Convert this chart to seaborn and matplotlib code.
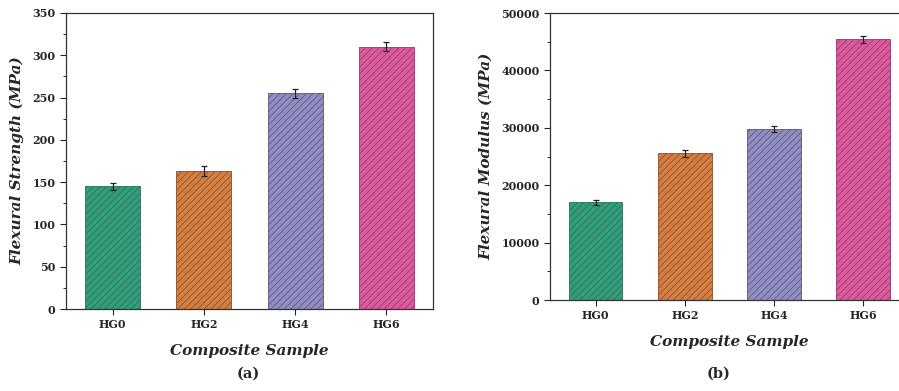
import matplotlib.pyplot as plt
import matplotlib.ticker as mticker
import pandas as pd
import seaborn as sns

samples = ['HG0', 'HG2', 'HG4', 'HG6']
strength = [145, 163, 255, 310]
strength_err = [4.5, 5.5, 5.5, 5.5]
modulus = [17000, 25600, 29800, 45400]
modulus_err = [450, 600, 600, 600]

colors = ['#22ad80', '#ea7a2c', '#8886c8', '#f0479c']
edges = ['#2b6e58', '#8c4c20', '#55547f', '#9a3265']

sns.set_style('ticks')
plt.rcParams['font.family'] = ['DejaVu Serif']
plt.rcParams['font.weight'] = 'bold'
plt.rcParams['hatch.linewidth'] = 0.5

fig = plt.figure(figsize=(8.99, 3.91), dpi=100)
ax1 = fig.add_axes([0.0734, 0.2097, 0.4083, 0.7571])
ax2 = fig.add_axes([0.6118, 0.2327, 0.3990, 0.7340])


def draw(ax, values, errs, ymax, major, minor, ylabel):
    df = pd.DataFrame({'sample': samples, 'value': values})
    sns.barplot(data=df, x='sample', y='value', hue='sample', palette=colors,
                width=0.6, errorbar=None, legend=False, ax=ax)
    for bar, ec in zip(ax.patches, edges):
        bar.set_hatch('/////')
        bar.set_edgecolor(ec)
        bar.set_linewidth(0.6)
    ax.errorbar(range(len(samples)), values, yerr=errs, fmt='none',
                ecolor='#222222', elinewidth=0.9, capsize=2.5, capthick=0.9)
    ax.set_ylim(0, ymax)
    ax.yaxis.set_major_locator(mticker.MultipleLocator(major))
    ax.yaxis.set_minor_locator(mticker.MultipleLocator(minor))
    ax.tick_params(axis='both', which='major', labelsize=8, length=4, width=0.8, direction='out')
    ax.tick_params(axis='y', which='minor', length=2.5, width=0.7)
    for lbl in ax.get_xticklabels() + ax.get_yticklabels():
        lbl.set_fontweight('bold')
    for s in ax.spines.values():
        s.set_linewidth(0.9)
        s.set_color('#333333')
    ax.set_xlabel('Composite Sample', fontsize=11, fontweight='bold', style='italic', labelpad=10)
    ax.set_ylabel(ylabel, fontsize=11, fontweight='bold', style='italic', labelpad=6)


draw(ax1, strength, strength_err, 350, 50, 25, 'Flexural Strength (MPa)')
ax1.set_xlim(-0.51, 3.51)
draw(ax2, modulus, modulus_err, 50000, 10000, 5000, 'Flexural Modulus (MPa)')
ax2.set_xlim(-0.514, 3.514)

fig.text(0.276, 0.033, '(a)', ha='center', fontsize=10.5, fontweight='bold')
fig.text(0.799, 0.033, '(b)', ha='center', fontsize=10.5, fontweight='bold')

fig.savefig('out.png', dpi=100)
